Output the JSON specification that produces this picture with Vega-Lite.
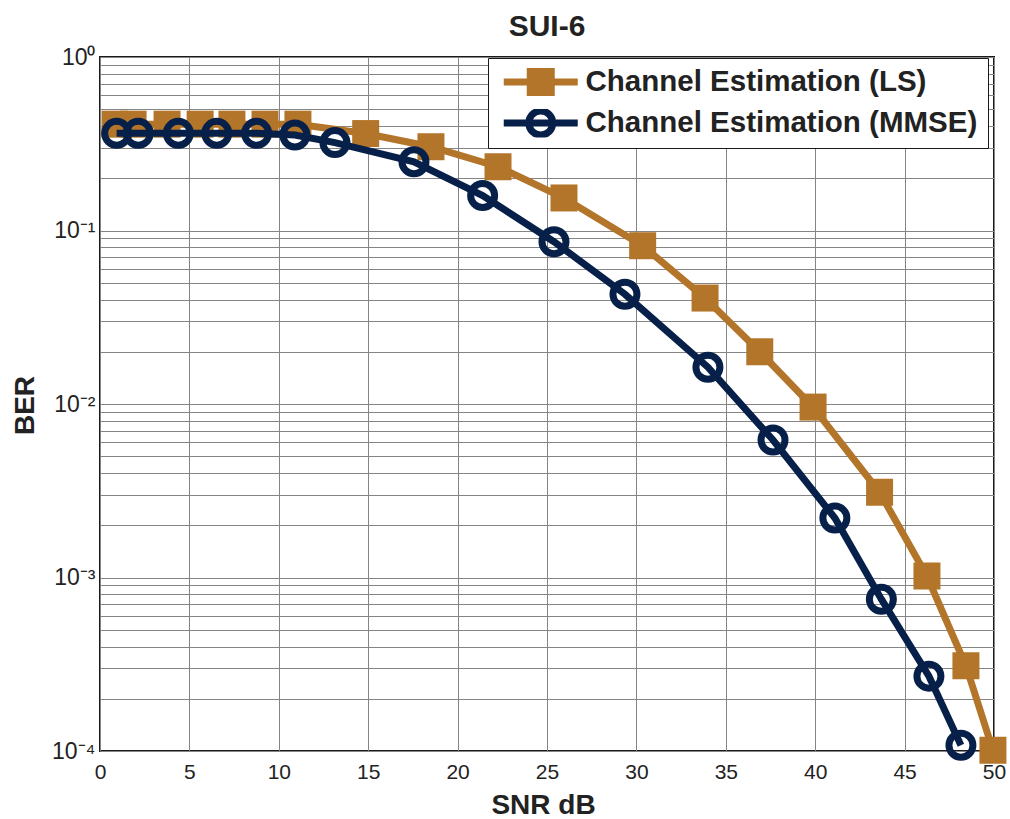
{
  "$schema": "https://vega.github.io/schema/vega-lite/v6.json",
  "width": 894,
  "height": 694,
  "autosize": {"type": "none"},
  "padding": {"left": 100, "top": 57, "right": 16, "bottom": 68},
  "background": "white",
  "title": {"text": "SUI-6", "font": "Liberation Sans", "fontSize": 30, "fontWeight": "bold", "color": "#222222", "anchor": "middle", "frame": "group", "baseline": "alphabetic", "offset": -20},
  "config": {"view": {"stroke": "#1a1a1a", "strokeWidth": 2}, "font": "Liberation Sans"},
  "data": {"values": [
    {"series": "Channel Estimation (LS)", "snr": 0.84, "ber": 0.41},
    {"series": "Channel Estimation (LS)", "snr": 1.85, "ber": 0.41},
    {"series": "Channel Estimation (LS)", "snr": 3.75, "ber": 0.41},
    {"series": "Channel Estimation (LS)", "snr": 5.6, "ber": 0.41},
    {"series": "Channel Estimation (LS)", "snr": 7.38, "ber": 0.41},
    {"series": "Channel Estimation (LS)", "snr": 9.23, "ber": 0.41},
    {"series": "Channel Estimation (LS)", "snr": 11.07, "ber": 0.41},
    {"series": "Channel Estimation (LS)", "snr": 14.86, "ber": 0.362},
    {"series": "Channel Estimation (LS)", "snr": 18.51, "ber": 0.304},
    {"series": "Channel Estimation (LS)", "snr": 22.26, "ber": 0.233},
    {"series": "Channel Estimation (LS)", "snr": 25.95, "ber": 0.154},
    {"series": "Channel Estimation (LS)", "snr": 30.35, "ber": 0.0817},
    {"series": "Channel Estimation (LS)", "snr": 33.84, "ber": 0.0408},
    {"series": "Channel Estimation (LS)", "snr": 36.9, "ber": 0.02},
    {"series": "Channel Estimation (LS)", "snr": 39.88, "ber": 0.0096},
    {"series": "Channel Estimation (LS)", "snr": 43.6, "ber": 0.0031},
    {"series": "Channel Estimation (LS)", "snr": 46.25, "ber": 0.00102},
    {"series": "Channel Estimation (LS)", "snr": 48.43, "ber": 0.00031},
    {"series": "Channel Estimation (LS)", "snr": 49.94, "ber": 0.000101},
    {"series": "Channel Estimation (MMSE)", "snr": 0.93, "ber": 0.363},
    {"series": "Channel Estimation (MMSE)", "snr": 2.14, "ber": 0.363},
    {"series": "Channel Estimation (MMSE)", "snr": 4.38, "ber": 0.363},
    {"series": "Channel Estimation (MMSE)", "snr": 6.53, "ber": 0.363},
    {"series": "Channel Estimation (MMSE)", "snr": 8.76, "ber": 0.363},
    {"series": "Channel Estimation (MMSE)", "snr": 10.9, "ber": 0.355},
    {"series": "Channel Estimation (MMSE)", "snr": 13.14, "ber": 0.321},
    {"series": "Channel Estimation (MMSE)", "snr": 17.56, "ber": 0.249},
    {"series": "Channel Estimation (MMSE)", "snr": 21.4, "ber": 0.159},
    {"series": "Channel Estimation (MMSE)", "snr": 25.39, "ber": 0.0862},
    {"series": "Channel Estimation (MMSE)", "snr": 29.36, "ber": 0.0429},
    {"series": "Channel Estimation (MMSE)", "snr": 34.0, "ber": 0.0163},
    {"series": "Channel Estimation (MMSE)", "snr": 37.64, "ber": 0.0062},
    {"series": "Channel Estimation (MMSE)", "snr": 41.1, "ber": 0.0022},
    {"series": "Channel Estimation (MMSE)", "snr": 43.7, "ber": 0.00075},
    {"series": "Channel Estimation (MMSE)", "snr": 46.36, "ber": 0.00027},
    {"series": "Channel Estimation (MMSE)", "snr": 48.15, "ber": 0.000108}
  ]},
  "encoding": {
    "x": {"field": "snr", "type": "quantitative",
      "scale": {"domain": [0, 50], "nice": false, "zero": false},
      "axis": {"values": [0, 5, 10, 15, 20, 25, 30, 35, 40, 45, 50], "title": "SNR dB", "titleFont": "Liberation Sans", "titleFontSize": 28, "titleFontWeight": "bold", "titleColor": "#222222", "titleY": 62, "titleX": 443, "titleBaseline": "alphabetic", "labelFont": "Liberation Sans", "labelFontSize": 21, "labelColor": "#222222", "labelPadding": 10, "labelFlush": false, "ticks": false, "domain": false, "grid": true, "gridColor": "#858585", "gridWidth": 1}},
    "y": {"field": "ber", "type": "quantitative",
      "scale": {"type": "log", "domain": [0.0001, 1], "nice": false},
      "axis": {"values": [0.0001, 0.0002, 0.0003, 0.0004, 0.0005, 0.0006, 0.0007, 0.0008, 0.0009, 0.001, 0.002, 0.003, 0.004, 0.005, 0.006, 0.007, 0.008, 0.009, 0.01, 0.02, 0.03, 0.04, 0.05, 0.06, 0.07, 0.08, 0.09, 0.1, 0.2, 0.3, 0.4, 0.5, 0.6, 0.7, 0.8, 0.9, 1],
        "labelExpr": "abs(log(datum.value)/LN10 - round(log(datum.value)/LN10)) < 0.000001 ? ['10⁰','10⁻¹','10⁻²','10⁻³','10⁻⁴'][-round(log(datum.value)/LN10)] : ''",
        "title": "BER", "titleFont": "Liberation Sans", "titleFontSize": 28, "titleFontWeight": "bold", "titleColor": "#222222", "titleX": -67, "titleY": 348, "titleBaseline": "alphabetic", "titleAngle": -90,
        "labelFont": "Liberation Sans", "labelFontSize": 23, "labelColor": "#222222", "labelPadding": 5, "labelFlush": false, "labelOverlap": false, "ticks": false, "domain": false, "grid": true, "gridColor": "#858585", "gridWidth": 1}}
  },
  "layer": [
    {"transform": [{"filter": "datum.series === 'Channel Estimation (LS)'"}],
     "mark": {"type": "line", "strokeWidth": 7, "clip": false},
     "encoding": {"color": {"field": "series", "type": "nominal",
       "scale": {"domain": ["Channel Estimation (LS)", "Channel Estimation (MMSE)"], "range": ["#B37529", "#072049"]},
       "legend": {"title": null, "orient": "none", "legendX": 388, "legendY": 1, "direction": "vertical",
         "fillColor": "white", "strokeColor": "#1a1a1a", "padding": 10, "rowPadding": 11, "clipHeight": 28,
         "labelFont": "Liberation Sans", "labelFontSize": 29.5, "labelFontWeight": "bold", "labelColor": "#222222", "labelLimit": 700, "labelBaseline": "middle",
         "symbolSize": 100, "symbolStrokeWidth": 7, "symbolOffset": 28, "labelOffset": 30,
         "encode": {"symbols": {"update": {
           "shape": {"signal": "datum.value === 'Channel Estimation (LS)' ? 'M-7.4,0H7.4M-2.1,-2.1H2.1V2.1H-2.1Z' : 'M-7.4,0H7.4M2.4,0A2.4,2.4,0,1,1,-2.4,0A2.4,2.4,0,1,1,2.4,0Z'"},
           "fill": {"signal": "datum.value === 'Channel Estimation (LS)' ? '#B37529' : 'transparent'"},
           "stroke": {"signal": "datum.value === 'Channel Estimation (LS)' ? '#B37529' : '#072049'"},
           "strokeWidth": {"value": 7},
           "opacity": {"value": 1}}}}}}}},
    {"transform": [{"filter": "datum.series === 'Channel Estimation (LS)'"}],
     "mark": {"type": "point", "shape": "square", "filled": true, "size": 729, "opacity": 1, "color": "#B37529", "clip": false}},
    {"transform": [{"filter": "datum.series === 'Channel Estimation (MMSE)'"}],
     "mark": {"type": "line", "strokeWidth": 7, "clip": false},
     "encoding": {"color": {"field": "series", "type": "nominal"}}},
    {"transform": [{"filter": "datum.series === 'Channel Estimation (MMSE)'"}],
     "mark": {"type": "point", "shape": "circle", "filled": false, "size": 576, "strokeWidth": 7, "opacity": 1, "color": "#072049", "clip": false}}
  ]
}
